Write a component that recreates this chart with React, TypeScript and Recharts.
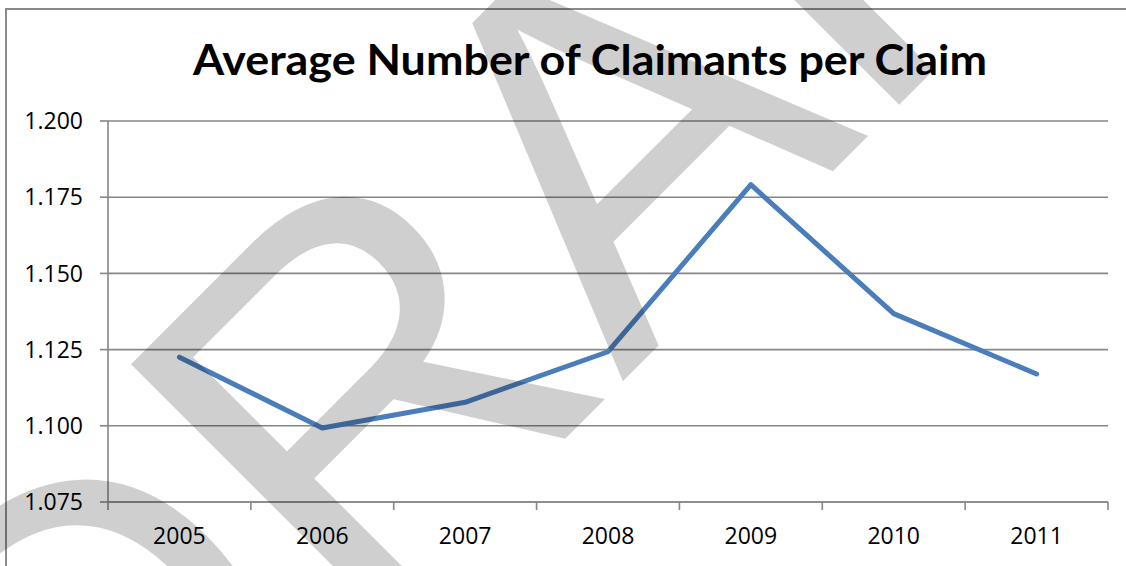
import React from 'react';
import { LineChart, Line, XAxis, YAxis, CartesianGrid } from 'recharts';

// values
const years = ['2005', '2006', '2007', '2008', '2009', '2010', '2011'];
const claimantsPerClaim = [1.1225, 1.0993, 1.1077, 1.1243, 1.1791, 1.1368, 1.117];
const yTicks = [1.075, 1.1, 1.125, 1.15, 1.175, 1.2];

const W = 1126;
const H = 566;
const Y_AXIS_W = 108;
const MARGIN = { top: 121, right: 18, bottom: 24, left: 0 };
const PLOT_W = W - MARGIN.left - Y_AXIS_W - MARGIN.right;
const BAND = PLOT_W / years.length;

const GRID = '#868686';
const TICK_FONT = '"Open Sans", sans-serif';

// one point per category, centred in its band
const data = years.map((year, i) => ({ year, pos: i + 0.5, value: claimantsPerClaim[i] }));
const edgeTicks = [...years.map((_, i) => i), years.length];

const YearTick = (props: any) => {
  const { x, y, index } = props;
  if (index >= years.length) return null;
  return (
    <text
      x={x + BAND / 2}
      y={y}
      dy="0.71em"
      textAnchor="middle"
      fill="#000"
      fontSize={23}
      fontFamily={TICK_FONT}
    >
      {years[index]}
    </text>
  );
};

export default function App() {
  return (
    <div
      style={{
        position: 'absolute',
        left: 0,
        top: 0,
        width: W,
        height: H,
        overflow: 'hidden',
        background: '#fff',
      }}
    >
      <div
        style={{
          position: 'absolute',
          left: 5,
          top: 8,
          width: 2000,
          height: 2000,
          border: '2px solid #8a8a8a',
        }}
      />
      <div style={{ position: 'absolute', left: 0, top: 0 }}>
        <LineChart width={W} height={H} data={data} margin={MARGIN}>
          <CartesianGrid vertical={false} stroke={GRID} strokeWidth={1.6} />
          <XAxis
            type="number"
            dataKey="pos"
            domain={[0, years.length]}
            ticks={edgeTicks}
            interval={0}
            height={40}
            tickSize={8}
            tickMargin={18}
            axisLine={{ stroke: GRID, strokeWidth: 1.6 }}
            tickLine={{ stroke: GRID, strokeWidth: 1.6 }}
            tick={(p: any) => <YearTick {...p} />}
          />
          <YAxis
            type="number"
            domain={[1.075, 1.2]}
            ticks={yTicks}
            interval={0}
            width={Y_AXIS_W}
            tickSize={8}
            tickMargin={17}
            axisLine={{ stroke: GRID, strokeWidth: 1.6 }}
            tickLine={{ stroke: GRID, strokeWidth: 1.6 }}
            tickFormatter={(v: number) => v.toFixed(3)}
            tick={{ fill: '#000', fontSize: 23, fontFamily: TICK_FONT }}
          />
          <Line
            type="linear"
            dataKey="value"
            stroke="#4a7ebb"
            strokeWidth={5}
            strokeLinecap="round"
            strokeLinejoin="round"
            dot={false}
            activeDot={false}
            isAnimationActive={false}
          />
        </LineChart>
      </div>
      <svg
        width={W}
        height={H}
        style={{ position: 'absolute', left: 0, top: 0, pointerEvents: 'none' }}
      >
        <text
          x={590}
          y={75}
          textAnchor="middle"
          fontFamily="Lato, sans-serif"
          fontWeight="bold"
          fontSize={42}
          textLength={794}
          lengthAdjust="spacingAndGlyphs"
          fill="#000"
        >
          Average Number of Claimants per Claim
        </text>
        {/* DRAFT watermark, partly off the page as in the reference */}
        <text
          x={88}
          y={916}
          transform="rotate(-45 88 916)"
          fontFamily='"Liberation Sans", Arial, sans-serif'
          fontSize={523}
          fill="#000"
          fillOpacity={0.19}
        >
          DRAFT
        </text>
      </svg>
    </div>
  );
}
